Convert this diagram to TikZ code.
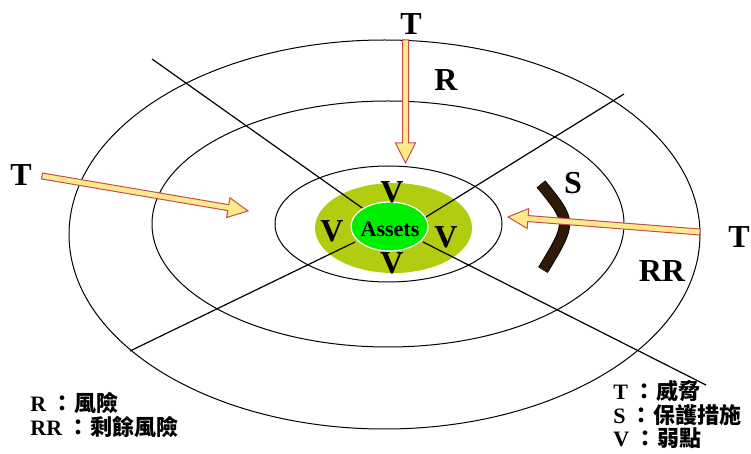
\documentclass[tikz,border=0pt]{standalone}
\usepackage{fontspec}
\setmainfont{Liberation Serif}
\newfontfamily\cjk{Noto Sans CJK TC}
\usepackage{tikz}
\usetikzlibrary{calc}
\definecolor{Olive}{HTML}{B2CC10}
\definecolor{Lime}{HTML}{00EE00}
\definecolor{ArrowFill}{HTML}{FFE98A}
\definecolor{ArrowLine}{HTML}{C0504D}
\definecolor{Shield}{HTML}{2E1A06}

% fat threat arrow from coordinate #1 to coordinate #2
\newcommand{\threat}[2]{%
  \coordinate (#1h) at ($(#2)!10pt!(#1)$);
  \filldraw[threatarrow]
    ($(#1)!1.5pt!90:(#2)$) -- ($(#1h)!1.5pt!90:(#2)$) -- ($(#1h)!5pt!90:(#2)$)
    -- (#2) -- ($(#1h)!5pt!-90:(#2)$) -- ($(#1h)!1.5pt!-90:(#2)$)
    -- ($(#1)!1.5pt!-90:(#2)$) -- cycle;}
% legend colon
\newcommand{\legsep}{\hspace{2.5pt}\cjk{：}\hspace{0.5pt}}

\begin{document}
\begin{tikzpicture}[x=0.5pt,y=-0.5pt,
  ring/.style={draw=black,line width=0.5pt},
  spoke/.style={draw=black,line width=0.6pt},
  lbl/.style={font=\fontsize{16}{19}\selectfont\bfseries,inner sep=0pt},
  legend/.style={font=\fontsize{11}{13}\selectfont\bfseries,inner sep=0pt,anchor=base west},
  threatarrow/.style={fill=ArrowFill,draw=ArrowLine,line width=0.5pt}]
\useasboundingbox (0,0) rectangle (751,454);
% rings
\draw[ring] (384.5,234.5) ellipse [x radius=315.5,y radius=194.5];
\draw[ring] (388,224) ellipse [x radius=236,y radius=123];
\draw[ring] (388.5,224) ellipse [x radius=113.5,y radius=58];
% assets core
\fill[Olive] (393.5,228) ellipse [x radius=78.5,y radius=45];
\draw[spoke] (152,59) -- (365,210);
\draw[spoke] (624,94) -- (426,217);
\draw[spoke] (130,351) -- (355,242);
\draw[spoke] (706,385) -- (423,242);
\filldraw[fill=Lime,draw=white,line width=0.6pt] (389.5,226.5) ellipse [x radius=38.5,y radius=24.5];
\node[inner sep=0pt,font=\fontsize{11}{13}\selectfont\bfseries] (assets) at (390,229) {Assets};
\node[lbl] (vTop) at (392,192) {V};
\node[lbl] (vLeft) at (332,231) {V};
\node[lbl] (vRight) at (446,237) {V};
\node[lbl] (vBottom) at (392,263) {V};
% safeguard
\draw[black,line width=5.6pt] (541,184) .. controls (572,222) .. (543,270);
\draw[Shield,line width=4.6pt] (541,184) .. controls (572,222) .. (543,270);
% threats
\coordinate (topStart) at (405.5,40);
\coordinate (topTip) at (405.5,163);
\coordinate (leftStart) at (42,176);
\coordinate (leftTip) at (248,211);
\coordinate (rightStart) at (700,232);
\coordinate (rightTip) at (508,217);
\threat{topStart}{topTip}
\threat{leftStart}{leftTip}
\threat{rightStart}{rightTip}
% labels
\node[lbl] (tTop) at (411,24) {T};
\node[lbl] (tLeft) at (21,175) {T};
\node[lbl] (tRight) at (739,237) {T};
\node[lbl] (rLabel) at (446,80) {R};
\node[lbl] (sLabel) at (573,183) {S};
\node[lbl] (rrLabel) at (662,271) {RR};
% legend
\node[legend] (legR) at (30,412) {R\legsep\cjk{風險}};
\node[legend] (legRR) at (30,436) {RR\legsep\cjk{剩餘風險}};
\node[legend] (legT) at (613,400) {T\legsep\cjk{威脅}};
\node[legend] (legS) at (613,424) {S\legsep\cjk{保護措施}};
\node[legend] (legV) at (613,447) {V\legsep\cjk{弱點}};
\end{tikzpicture}
\end{document}
